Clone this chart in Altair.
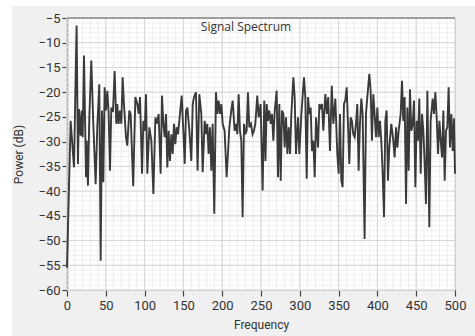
import altair as alt
import pandas as pd

freq = [
    0, 4.7, 9.0, 12.4, 14.1, 15.4, 17.6, 18.9, 20.2, 21.9,
    24.5, 25.3, 27.0, 28.7, 31.3, 33.9, 36.9, 39.0, 41.6, 43.4,
    45.1, 46.8, 48.5, 50.2, 52.0, 53.7, 55.4, 57.1, 59.2, 61.4,
    63.5, 64.8, 66.5, 68.3, 70.0, 71.7, 73.4, 76.0, 77.7, 80.3,
    82.0, 85.3, 88.1, 90.6, 92.4, 94.1, 96.7, 98.4, 100.1, 101.8,
    103.5, 106.1, 108.7, 111.3, 113.9, 115.6, 118.1, 120.7, 122.4, 124.2,
    125.9, 127.6, 129.3, 131.0, 132.7, 134.5, 136.2, 137.9, 139.6, 141.3,
    143.1, 145.6, 147.8, 149.9, 151.7, 153.4, 155.1, 157.7, 160.2, 162.0,
    163.7, 166.2, 168.3, 170.5, 173.1, 174.8, 177.4, 179.1, 180.8, 182.5,
    184.2, 186.0, 187.7, 189.8, 192.0, 193.7, 195.4, 197.1, 198.9, 200.6,
    203.1, 205.7, 207.4, 209.2, 211.7, 213.5, 216.0, 217.7, 219.5, 221.2,
    222.9, 224.6, 226.3, 228.1, 229.8, 231.5, 233.2, 234.9, 237.1, 239.2,
    240.9, 242.7, 245.2, 247.0, 249.5, 252.1, 254.2, 255.8, 257.3, 259.0,
    260.7, 262.5, 264.2, 265.9, 267.6, 270.2, 271.9, 273.6, 275.4, 277.1,
    278.8, 280.5, 282.2, 284.0, 285.7, 287.4, 289.1, 291.7, 293.4, 295.1,
    297.7, 299.4, 302.0, 305.4, 307.1, 308.9, 310.6, 312.3, 314.0, 315.7,
    317.5, 319.2, 320.9, 323.5, 325.2, 326.9, 328.6, 330.3, 332.9, 334.9,
    336.6, 338.9, 341.2, 343.2, 345.8, 348.3, 350.1, 351.8, 353.5, 355.2,
    356.9, 358.6, 360.4, 362.1, 363.8, 365.5, 367.2, 368.9, 370.7, 372.4,
    374.1, 375.8, 377.5, 379.3, 381.0, 383.5, 385.3, 387.0, 389.6, 391.3,
    393.0, 394.7, 396.4, 398.2, 399.9, 401.6, 403.3, 405.0, 406.7, 408.5,
    410.2, 411.9, 413.6, 415.3, 417.9, 420.5, 422.2, 424.0, 425.7, 427.4,
    430.0, 431.7, 433.4, 435.1, 436.9, 438.6, 440.3, 442.0, 443.7, 445.5,
    447.2, 448.9, 450.6, 452.3, 454.0, 455.8, 457.5, 459.2, 460.9, 462.6,
    464.4, 466.9, 468.6, 471.2, 472.9, 474.7, 476.4, 478.1, 479.9, 481.6,
    483.3, 485.0, 486.7, 488.4, 490.1, 491.8, 493.5, 495.3, 497.0, 498.7,
    500.0,
]

power = [
    -55.5, -25.8, -35.2, -6.5, -34.5, -23.4, -28.8, -23.7, -29.1, -12.6,
    -37.2, -29.8, -38.9, -25.4, -13.6, -26.4, -38.6, -27.1, -18.4, -54.1,
    -23.7, -38.2, -19.0, -23.7, -19.7, -24.4, -35.9, -23.1, -24.0, -15.7,
    -26.4, -22.4, -26.4, -23.7, -26.4, -17.0, -22.4, -29.1, -30.8, -23.7,
    -24.4, -39.0, -21.0, -22.4, -24.4, -21.0, -36.5, -25.8, -27.8, -20.4,
    -36.5, -27.1, -29.8, -40.6, -25.1, -26.4, -24.4, -36.5, -20.7, -26.4,
    -29.1, -24.4, -35.2, -27.8, -33.9, -28.5, -32.5, -26.4, -30.5, -27.1,
    -28.5, -24.4, -20.7, -27.8, -34.5, -23.7, -23.1, -27.8, -33.9, -22.4,
    -21.0, -20.0, -35.9, -20.4, -24.4, -36.2, -25.8, -28.5, -26.4, -32.5,
    -27.1, -35.9, -26.4, -44.6, -20.0, -24.4, -21.7, -24.4, -22.4, -26.4,
    -27.8, -37.2, -32.5, -27.1, -23.7, -21.7, -27.8, -26.4, -28.5, -20.4,
    -27.8, -29.8, -45.3, -26.4, -28.5, -27.8, -20.0, -27.1, -26.4, -28.5,
    -27.8, -26.4, -20.7, -25.1, -22.4, -39.9, -21.7, -33.9, -22.4, -25.8,
    -23.7, -26.4, -24.4, -29.8, -24.0, -19.7, -37.2, -22.4, -37.9, -23.7,
    -24.4, -31.2, -25.1, -32.5, -27.1, -32.5, -24.4, -17.0, -21.0, -32.5,
    -25.1, -32.5, -24.4, -17.0, -21.0, -37.5, -21.0, -24.4, -23.1, -31.9,
    -29.8, -37.2, -25.1, -31.2, -22.4, -23.1, -22.4, -27.8, -20.4, -24.4,
    -21.0, -31.9, -18.7, -26.4, -21.3, -32.5, -36.5, -24.4, -37.9, -39.2,
    -22.4, -21.7, -19.0, -26.4, -34.5, -25.1, -25.8, -28.5, -29.1, -26.4,
    -22.4, -35.9, -26.4, -21.3, -24.4, -49.7, -24.4, -21.0, -16.3, -19.7,
    -29.8, -20.4, -24.4, -29.1, -23.1, -29.1, -25.8, -29.8, -35.9, -45.3,
    -25.8, -23.7, -37.9, -31.2, -26.4, -29.8, -33.2, -27.1, -31.2, -27.8,
    -24.4, -17.7, -25.8, -21.0, -42.6, -23.1, -35.9, -19.4, -27.8, -26.4,
    -21.7, -39.2, -25.8, -29.8, -21.3, -36.5, -24.4, -27.8, -34.5, -42.6,
    -19.7, -47.3, -25.8, -21.3, -24.4, -20.0, -25.1, -32.5, -25.8, -29.8,
    -33.2, -23.7, -37.9, -27.8, -27.1, -19.0, -31.2, -24.4, -31.9, -25.3,
    -36.5,
]

assert len(freq) == len(power)

x_ticks = list(range(0, 501, 50))
y_ticks = list(range(-60, -4, 5))
chart_title = "Signal Spectrum"
x_title = "Frequency"
y_title = "Power (dB)"

df = pd.DataFrame({"Frequency": freq, "Power": power})
one = alt.Data(values=[{"k": 0}])

W, H = 388, 272
FONT = "Roboto"

xs = alt.Scale(domain=[0, 500], nice=False, zero=False)
ys = alt.Scale(domain=[-60, -5], nice=False, zero=False)

x_axis = alt.Axis(
    values=x_ticks, title=x_title, grid=False, domain=False,
    tickColor="#444", tickSize=6, tickWidth=1.2, labelPadding=3,
    labelFont=FONT, labelFontSize=13, labelColor="#333",
    titleFont=FONT, titleFontSize=12, titleFontWeight="normal",
    titleColor="#333", titlePadding=7, labelFlush=False,
)
y_axis = alt.Axis(
    values=y_ticks, title=y_title, grid=False,
    domainColor="#555", domainWidth=1.5,
    tickColor="#444", tickSize=5, tickWidth=1.2, labelPadding=2,
    labelFont=FONT, labelFontSize=13, labelColor="#333",
    titleFont=FONT, titleFontSize=12, titleFontWeight="normal",
    titleColor="#333", titlePadding=12, labelFlush=False,
)

# decorative white margin at left/top of the grey panel
margin_left = alt.Chart(one).mark_rect(color="white").encode(
    x=alt.value(-67), x2=alt.value(-55), y=alt.value(-18), y2=alt.value(H + 46)
)
margin_top = alt.Chart(one).mark_rect(color="white").encode(
    x=alt.value(-67), x2=alt.value(W + 20), y=alt.value(-18), y2=alt.value(-12)
)

minor_x = alt.Chart(alt.sequence(0, 501, 10, as_="v")).mark_rule(
    color="#ececec", strokeWidth=1
).encode(x=alt.X("v:Q", scale=xs, axis=x_axis))
minor_y = alt.Chart(alt.sequence(-60, -4, 1, as_="v")).mark_rule(
    color="#f0f0f0", strokeWidth=1
).encode(y=alt.Y("v:Q", scale=ys, axis=y_axis))
major_x = alt.Chart(alt.sequence(0, 501, 50, as_="v")).mark_rule(
    color="#d6d6d6", strokeWidth=1
).encode(x=alt.X("v:Q", scale=xs, axis=x_axis))
major_y = alt.Chart(alt.sequence(-60, -4, 5, as_="v")).mark_rule(
    color="#d6d6d6", strokeWidth=1
).encode(y=alt.Y("v:Q", scale=ys, axis=y_axis))

top_border = alt.Chart(one).mark_rule(color="#8a8a8a", strokeWidth=1.5).encode(
    x=alt.value(0), x2=alt.value(W), y=alt.value(0)
)

line = alt.Chart(df).mark_line(color="#3a3a3a", strokeWidth=1.9).encode(
    x=alt.X("Frequency:Q", scale=xs, axis=x_axis),
    y=alt.Y("Power:Q", scale=ys, axis=y_axis),
)

title_text = alt.Chart(one).mark_text(
    text=chart_title, font="Open Sans", fontSize=12, color="#333",
    align="center", baseline="alphabetic",
).encode(x=alt.value(179), y=alt.value(13))

chart = alt.layer(
    margin_left, margin_top, minor_x, minor_y, major_x, major_y,
    top_border, line, title_text,
).properties(
    width=W, height=H,
    autosize=alt.AutoSizeParams(type="none"),
    padding={"left": 67, "top": 18, "right": 20, "bottom": 46},
    background="#f0f0f0",
).configure_view(fill="white", stroke="#b4b4b4", strokeWidth=1)

chart.save("out.html", embed_options={"renderer": "svg", "actions": False})
